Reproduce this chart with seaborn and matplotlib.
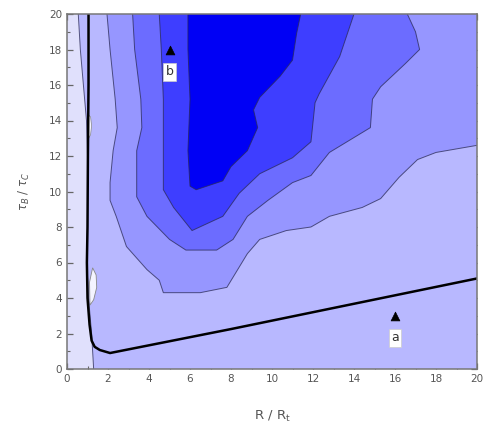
import numpy as np
import matplotlib
matplotlib.use("Agg")
import matplotlib.pyplot as plt
import seaborn as sns
from matplotlib.ticker import MultipleLocator

# ---- data (contour level boundaries, data coords) ----
b1_x = [0.55, 0.65, 0.8, 0.95, 1.0, 1.0, 0.97, 1.05, 1.2, 1.3]
b1_y = [20, 18, 16, 14, 12, 8, 6, 4, 2, 0]

b2_x = [1.95, 2.1, 2.35, 2.45, 2.25, 2.1, 2.1, 2.4, 2.9, 3.9, 4.5, 4.7,
        6.5, 7.8, 8.8, 9.4, 10.7, 11.9, 12.8, 14.4, 15.3, 16.2, 17.1, 18.0, 20.0]
b2_y = [20, 18, 15.2, 13.6, 12.3, 10.5, 9.5, 8.6, 6.9, 5.6, 5.0, 4.3,
        4.3, 4.6, 6.5, 7.3, 7.8, 8.0, 8.6, 9.1, 9.6, 10.8, 11.8, 12.2, 12.6]

b3_x = [3.2, 3.3, 3.6, 3.65, 3.4, 3.4, 3.9, 5.0, 5.8, 7.3, 8.1, 8.8, 9.8, 11.0,
        11.9, 12.8, 14.8, 14.9, 15.3, 16.5, 17.2, 17.0, 16.6]
b3_y = [20, 18, 15.2, 13.6, 12.3, 9.7, 8.6, 7.3, 6.7, 6.7, 7.3, 8.6, 9.5, 10.5,
        10.9, 12.2, 13.6, 15.2, 15.9, 17.2, 18.0, 19.0, 20]

b4_x = [4.5, 4.6, 4.7, 4.7, 4.7, 5.2, 6.1, 7.6, 8.4, 9.4, 11.0, 11.9, 12.1,
        12.3, 13.3, 14.0]
b4_y = [20, 18, 15.2, 12.3, 10.1, 9.1, 7.8, 8.6, 9.9, 11.0, 11.9, 12.8, 15.0,
        15.5, 17.6, 20]

b5_x = [5.9, 5.9, 6.0, 5.9, 6.0, 6.3, 7.6, 8.0, 8.8, 9.3, 9.1, 9.4, 10.4, 11.0, 11.2, 11.4]
b5_y = [20, 18, 15.2, 12.3, 10.3, 10.1, 10.6, 11.4, 12.3, 13.6, 14.6, 15.3, 16.5, 17.4, 18.9, 20]

blob1_x = [1.12, 1.3, 1.45, 1.42, 1.25, 1.1]
blob1_y = [3.6, 3.9, 4.6, 5.3, 5.7, 4.9]
blob2_x = [1.06, 1.15, 1.2, 1.15, 1.06]
blob2_y = [13.0, 13.2, 13.7, 14.2, 14.3]

# bold separating curve
curve_x = [1.05, 1.05, 1.02, 1.0, 0.97, 1.0, 1.1, 1.2, 1.35, 1.6, 2.1, 8.0, 20.0]
curve_y = [20, 16, 12, 8, 6, 4, 2.5, 1.6, 1.25, 1.07, 0.9, 2.25, 5.1]

# marked points
pts_x = [5.0, 16.0]
pts_y = [18.0, 3.0]
pts_label = ["b", "a"]

level_colors = ["#e0e0fc", "#b8b8ff", "#9696ff", "#6c6cff", "#3e3eff", "#0000f5"]

xticks = list(range(0, 21, 2))
yticks = list(range(0, 21, 2))

# ---- figure ----
sns.set_style("ticks")
plt.rcParams['font.family'] = ['DejaVu Sans']

fig = plt.figure(figsize=(4.83, 4.29), dpi=100)
ax = fig.add_axes([67 / 483, 60 / 429, 410 / 483, 355 / 429])

ax.set_xlim(0, 20)
ax.set_ylim(0, 20)
ax.set_facecolor(level_colors[0])

# nested filled levels
ax.fill(b1_x + [20, 20], b1_y + [0, 20], color=level_colors[1], lw=0, zorder=1)
ax.fill(b2_x + [20], b2_y + [20], color=level_colors[2], lw=0, zorder=2)
ax.fill(b3_x, b3_y, color=level_colors[3], lw=0, zorder=3)
ax.fill(b4_x, b4_y, color=level_colors[4], lw=0, zorder=4)
ax.fill(b5_x, b5_y, color=level_colors[5], lw=0, zorder=5)
ax.fill(blob1_x, blob1_y, color="#f4f4ff", lw=0.6, ec="#888888", zorder=6)
ax.fill(blob2_x, blob2_y, color="#f4f4ff", lw=0.5, ec="#888888", zorder=6)

for bx, by in [(b1_x, b1_y), (b2_x, b2_y), (b3_x, b3_y), (b4_x, b4_y), (b5_x, b5_y)]:
    ax.plot(bx, by, color="#2a2a55", lw=0.7, alpha=0.75, zorder=7)

sns.lineplot(x=curve_x, y=curve_y, sort=False, estimator=None, color="black",
             linewidth=1.8, ax=ax, zorder=8)

sns.scatterplot(x=pts_x, y=pts_y, marker="^", color="black", s=40,
                edgecolor="black", ax=ax, zorder=9)
for px, py, lab in zip(pts_x, pts_y, pts_label):
    ax.text(px, py - 1.25, lab, ha="center", va="center", fontsize=9,
            color="#333333", zorder=10,
            bbox=dict(facecolor="white", edgecolor="#cccccc", pad=1.8, lw=0.5))

# axes styling
ax.set_xticks(xticks)
ax.set_yticks(yticks)
ax.xaxis.set_minor_locator(MultipleLocator(1))
ax.yaxis.set_minor_locator(MultipleLocator(1))
ax.tick_params(which="both", direction="in", top=True, right=True,
               colors="#666666", labelcolor="#555555", labelsize=7.5)
ax.tick_params(which="major", length=4, width=0.9)
ax.tick_params(which="minor", length=2.5, width=0.8)
for s in ax.spines.values():
    s.set_color("#777777")
    s.set_linewidth(1.1)
    s.set_zorder(11)

ax.set_xlabel("R / R$_\\mathrm{t}$", fontsize=9.5, color="#555555", labelpad=18)
ax.set_ylabel("$\\tau_B$ / $\\tau_C$", fontsize=8.5, color="#555555", labelpad=12)

fig.savefig("out.png", dpi=100)
